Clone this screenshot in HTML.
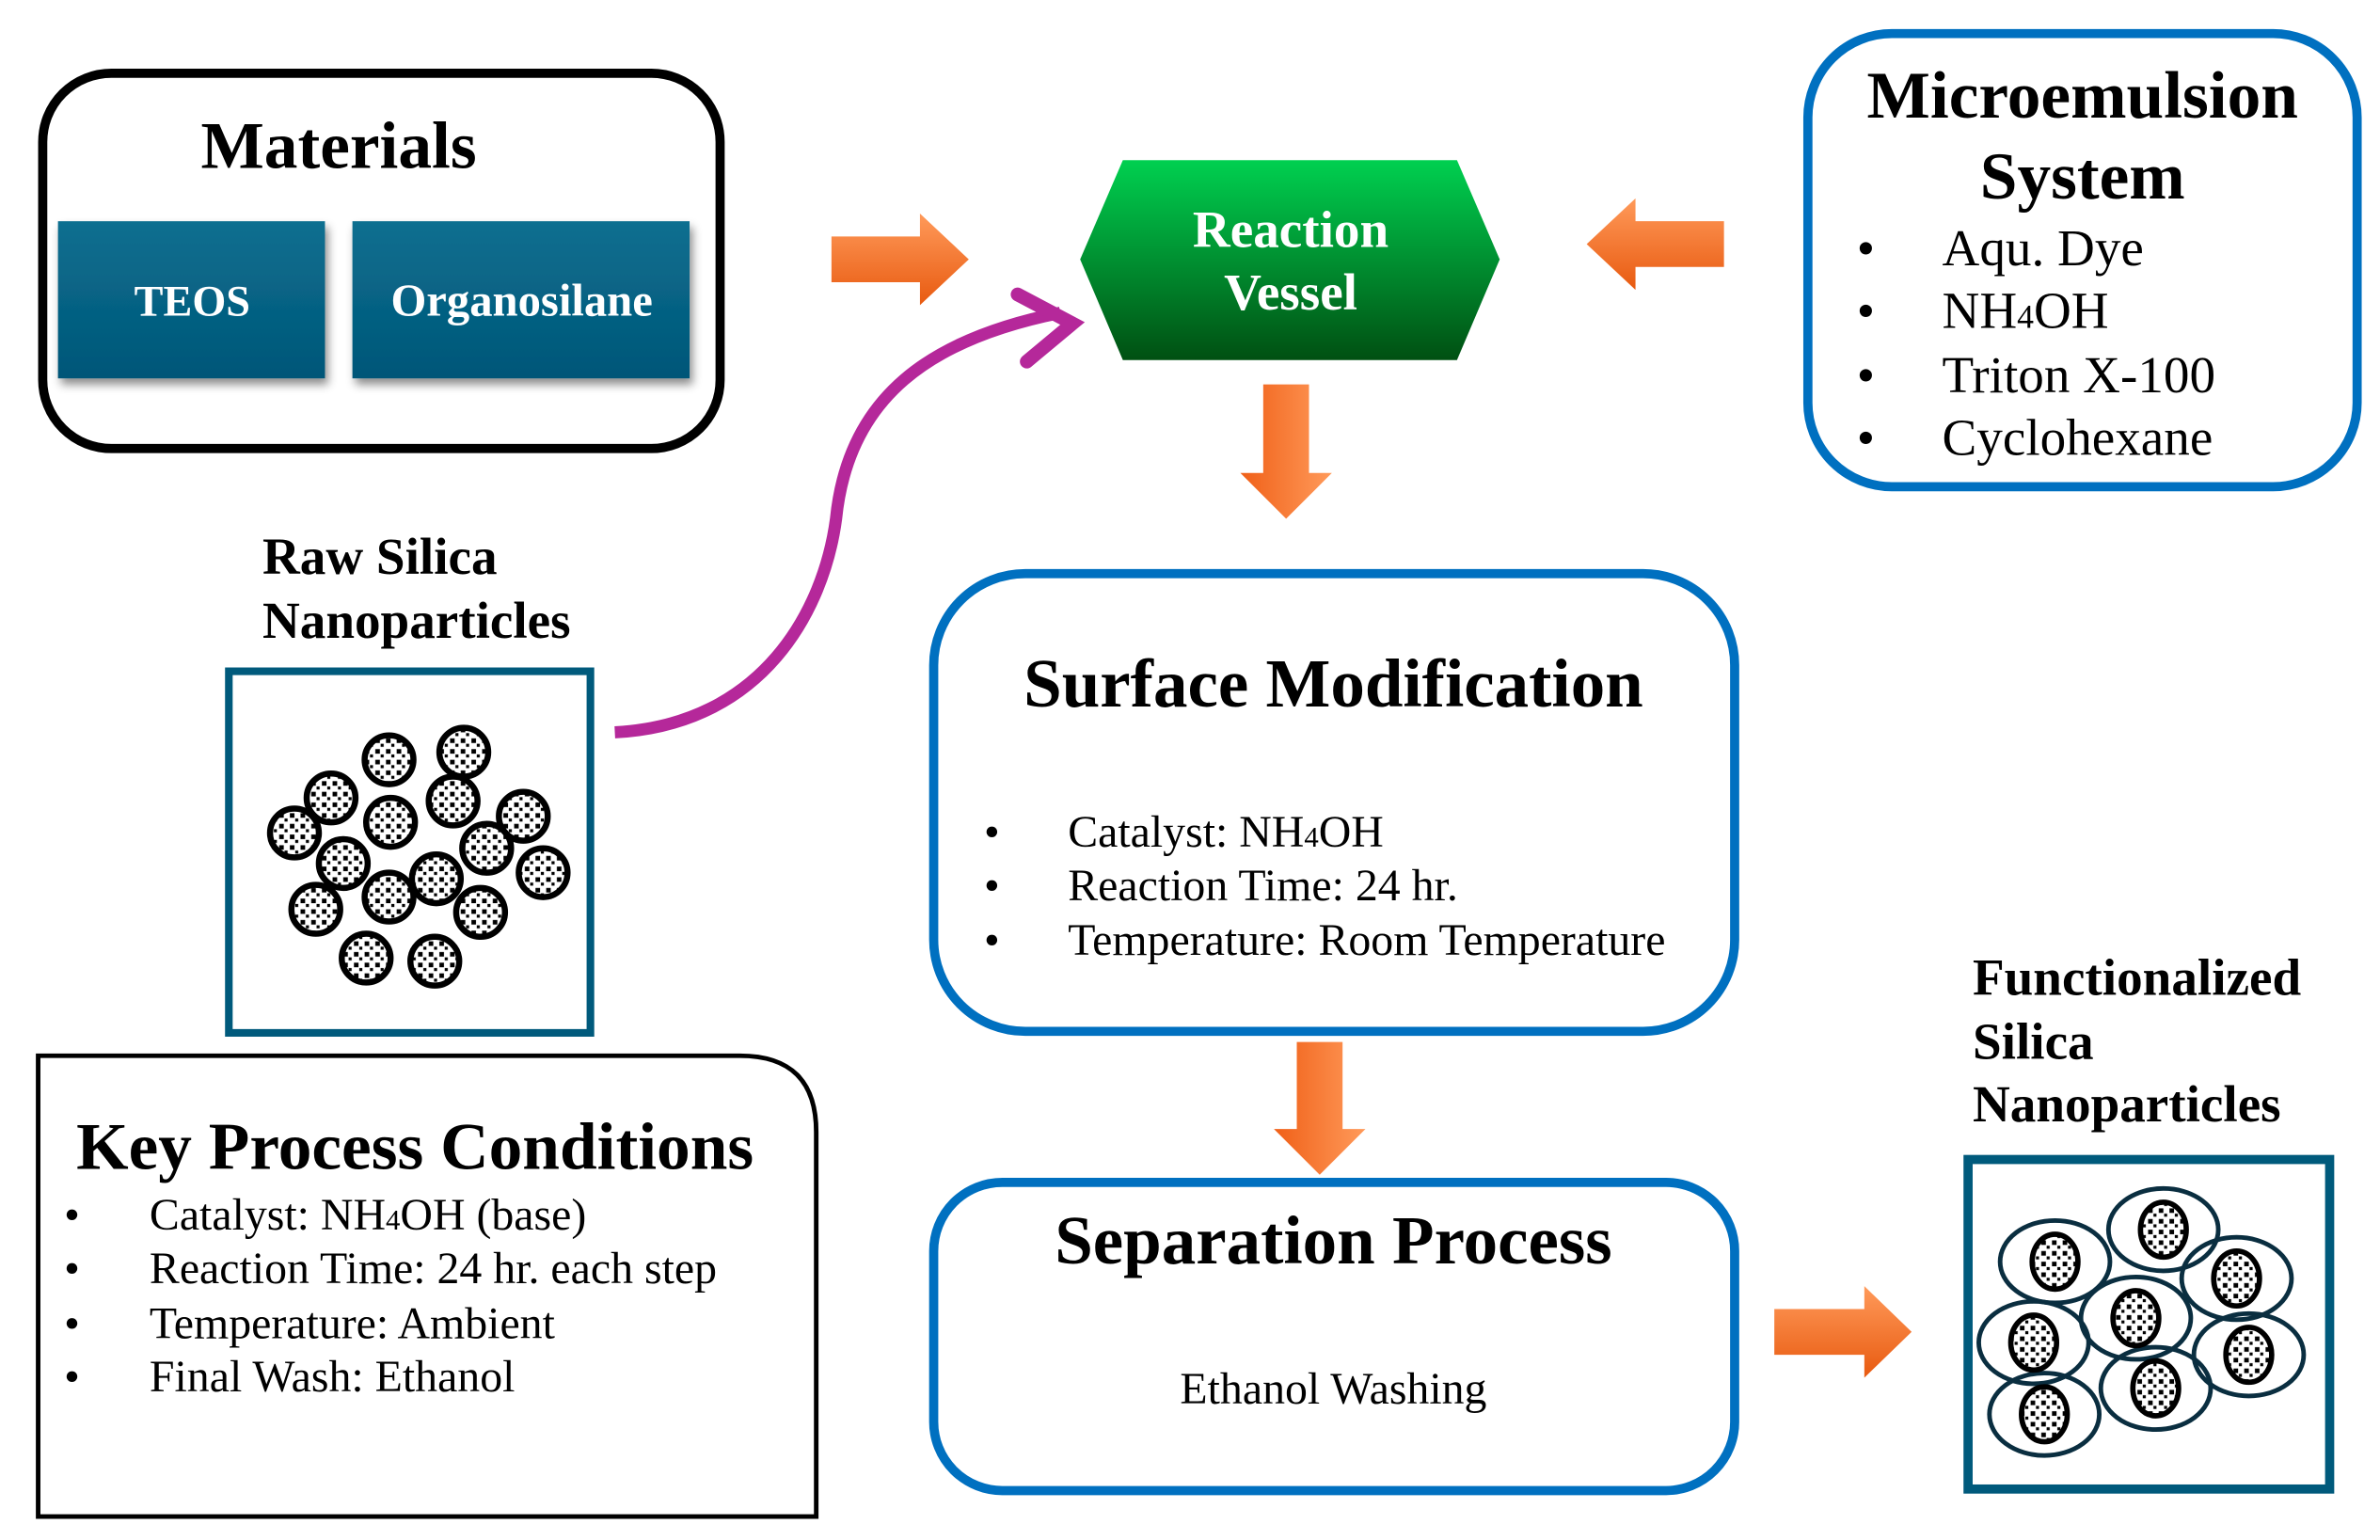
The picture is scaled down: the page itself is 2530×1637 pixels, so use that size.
<!DOCTYPE html>
<html><head><meta charset="utf-8"><style>
html,body{margin:0;padding:0;background:#fff;}
svg{display:block;}
text{font-family:"Liberation Serif",serif;}
.b{font-weight:bold;}
</style></head><body>
<svg width="2530" height="1637" viewBox="0 0 1560 1009.4" preserveAspectRatio="none" xmlns="http://www.w3.org/2000/svg">
<defs>
<linearGradient id="teal" x1="0" y1="0" x2="0" y2="1"><stop offset="0" stop-color="#0a6f90"/><stop offset="1" stop-color="#035678"/></linearGradient>
<linearGradient id="green" x1="0" y1="0" x2="0" y2="1"><stop offset="0" stop-color="#00d050"/><stop offset="1" stop-color="#005012"/></linearGradient>
<linearGradient id="orH" x1="0" y1="0" x2="0" y2="1"><stop offset="0" stop-color="#ff9a5a"/><stop offset="1" stop-color="#e85a10"/></linearGradient>
<linearGradient id="orV" x1="0" y1="0" x2="1" y2="0"><stop offset="0" stop-color="#f06018"/><stop offset="1" stop-color="#ff9a5a"/></linearGradient>
<pattern id="dots" width="7" height="7" patternUnits="userSpaceOnUse"><rect x="1" y="1" width="3" height="3" fill="#000"/><rect x="4.5" y="4.5" width="2" height="2" fill="#000"/></pattern>
<filter id="sh" x="-10%" y="-10%" width="130%" height="130%"><feDropShadow dx="2" dy="4" stdDeviation="3" flood-opacity="0.45"/></filter>
</defs>

<!-- Materials -->
<rect x="28" y="48" width="444" height="246" rx="45" fill="#fff" stroke="#000" stroke-width="6"/>
<text x="222" y="110" class="b" font-size="44" text-anchor="middle">Materials</text>
<rect x="38" y="145" width="175" height="103" fill="url(#teal)" filter="url(#sh)"/>
<rect x="231" y="145" width="221" height="103" fill="url(#teal)" filter="url(#sh)"/>
<text x="126" y="207" class="b" font-size="28.5" fill="#fff" text-anchor="middle">TEOS</text>
<text x="342" y="207" class="b" font-size="30" fill="#fff" text-anchor="middle">Organosilane</text>

<!-- arrows -->
<polygon points="545,155 603,155 603,140 635,170 603,200 603,185 545,185" fill="url(#orH)"/>
<polygon points="1130,145 1072,145 1072,130 1040,160 1072,190 1072,175 1130,175" fill="url(#orH)"/>
<polygon points="828,252 858,252 858,310 873,310 843,340 813,310 828,310" fill="url(#orV)"/>
<polygon points="850,683 880,683 880,740 895,740 865,770 835,740 850,740" fill="url(#orV)"/>
<polygon points="1163,858 1222,858 1222,843 1253,873 1222,903 1222,888 1163,888" fill="url(#orH)"/>

<!-- Reaction Vessel -->
<polygon points="708,170 736,105 955,105 983,170 955,236 736,236" fill="url(#green)"/>
<text x="846" y="162" class="b" font-size="34" fill="#fff" text-anchor="middle">Reaction</text>
<text x="846" y="203" class="b" font-size="34" fill="#fff" text-anchor="middle">Vessel</text>

<!-- Microemulsion -->
<rect x="1185" y="22" width="360" height="297" rx="55" fill="#fff" stroke="#0070c0" stroke-width="6"/>
<text x="1365" y="77" class="b" font-size="44" text-anchor="middle">Microemulsion</text>
<text x="1365" y="130" class="b" font-size="44" text-anchor="middle">System</text>
<g font-size="34">
<text x="1217" y="174">•</text><text x="1273" y="174">Aqu. Dye</text>
<text x="1217" y="215">•</text><text x="1273" y="215">NH<tspan font-size="22">4</tspan>OH</text>
<text x="1217" y="257">•</text><text x="1273" y="257">Triton X-100</text>
<text x="1217" y="298">•</text><text x="1273" y="298">Cyclohexane</text>
</g>

<!-- magenta curve -->
<path d="M403,480 C500,475 540,400 548,340 C556,260 610,222 695,205" fill="none" stroke="#b5289a" stroke-width="8"/>
<path d="M667,193 L703,212 L673,237" fill="none" stroke="#b5289a" stroke-width="9" stroke-linecap="round" stroke-linejoin="miter"/>

<!-- Raw silica -->
<text x="172" y="376" class="b" font-size="34">Raw Silica</text>
<text x="172" y="418" class="b" font-size="34">Nanoparticles</text>
<rect x="150" y="440" width="237" height="237" fill="none" stroke="#005a7c" stroke-width="5"/>
<g fill="url(#dots)" stroke="#000" stroke-width="4">
<circle cx="255" cy="498" r="16"/><circle cx="304" cy="493" r="16"/><circle cx="217" cy="523" r="16"/>
<circle cx="297" cy="525" r="16"/><circle cx="343" cy="535" r="16"/><circle cx="193" cy="546" r="16"/>
<circle cx="256" cy="539" r="16"/><circle cx="225" cy="566" r="16"/><circle cx="319" cy="556" r="16"/>
<circle cx="356" cy="572" r="16"/><circle cx="286" cy="576" r="16"/><circle cx="255" cy="588" r="16"/>
<circle cx="207" cy="596" r="16"/><circle cx="315" cy="598" r="16"/><circle cx="240" cy="628" r="16"/>
<circle cx="285" cy="630" r="16"/>
</g>

<!-- Surface Modification -->
<rect x="612" y="376" width="525" height="300" rx="60" fill="#fff" stroke="#0070c0" stroke-width="6"/>
<text x="874" y="463" class="b" font-size="45" text-anchor="middle">Surface Modification</text>
<g font-size="29.5">
<text x="645" y="555">•</text><text x="700" y="555">Catalyst: NH<tspan font-size="19">4</tspan>OH</text>
<text x="645" y="590">•</text><text x="700" y="590">Reaction Time: 24 hr.</text>
<text x="645" y="626">•</text><text x="700" y="626">Temperature: Room Temperature</text>
</g>

<!-- Separation -->
<rect x="612" y="775" width="525" height="202" rx="45" fill="#fff" stroke="#0070c0" stroke-width="6"/>
<text x="874" y="828" class="b" font-size="45" text-anchor="middle">Separation Process</text>
<text x="874" y="920" font-size="29.5" text-anchor="middle">Ethanol Washing</text>

<!-- Functionalized -->
<text x="1293" y="652" class="b" font-size="34">Functionalized</text>
<text x="1293" y="694" class="b" font-size="34">Silica</text>
<text x="1293" y="735" class="b" font-size="34">Nanoparticles</text>
<rect x="1290" y="760" width="237" height="216" fill="none" stroke="#005a7c" stroke-width="6"/>
<g stroke="#0a2e40" stroke-width="3" fill="none">
<ellipse cx="1347" cy="827" rx="36" ry="27"/><ellipse cx="1418" cy="806" rx="36" ry="27"/>
<ellipse cx="1466" cy="838" rx="36" ry="27"/><ellipse cx="1400" cy="864" rx="36" ry="27"/>
<ellipse cx="1333" cy="880" rx="36" ry="27"/><ellipse cx="1474" cy="888" rx="36" ry="27"/>
<ellipse cx="1413" cy="910" rx="36" ry="27"/><ellipse cx="1340" cy="927" rx="36" ry="27"/>
</g>
<g fill="url(#dots)" stroke="#000" stroke-width="3.5">
<ellipse cx="1347" cy="827" rx="15" ry="18"/><ellipse cx="1418" cy="806" rx="15" ry="18"/>
<ellipse cx="1466" cy="838" rx="15" ry="18"/><ellipse cx="1400" cy="864" rx="15" ry="18"/>
<ellipse cx="1333" cy="880" rx="15" ry="18"/><ellipse cx="1474" cy="888" rx="15" ry="18"/>
<ellipse cx="1413" cy="910" rx="15" ry="18"/><ellipse cx="1340" cy="927" rx="15" ry="18"/>
</g>

<!-- Key Process Conditions -->
<path d="M25,692 L485,692 Q535,692 535,742 L535,994 L25,994 Z" fill="#fff" stroke="#000" stroke-width="3"/>
<text x="50" y="766" class="b" font-size="44">Key Process Conditions</text>
<g font-size="29.5">
<text x="42" y="806">•</text><text x="98" y="806">Catalyst: NH<tspan font-size="19">4</tspan>OH (base)</text>
<text x="42" y="841">•</text><text x="98" y="841">Reaction Time: 24 hr. each step</text>
<text x="42" y="877">•</text><text x="98" y="877">Temperature: Ambient</text>
<text x="42" y="912">•</text><text x="98" y="912">Final Wash: Ethanol</text>
</g>
</svg>
</body></html>
